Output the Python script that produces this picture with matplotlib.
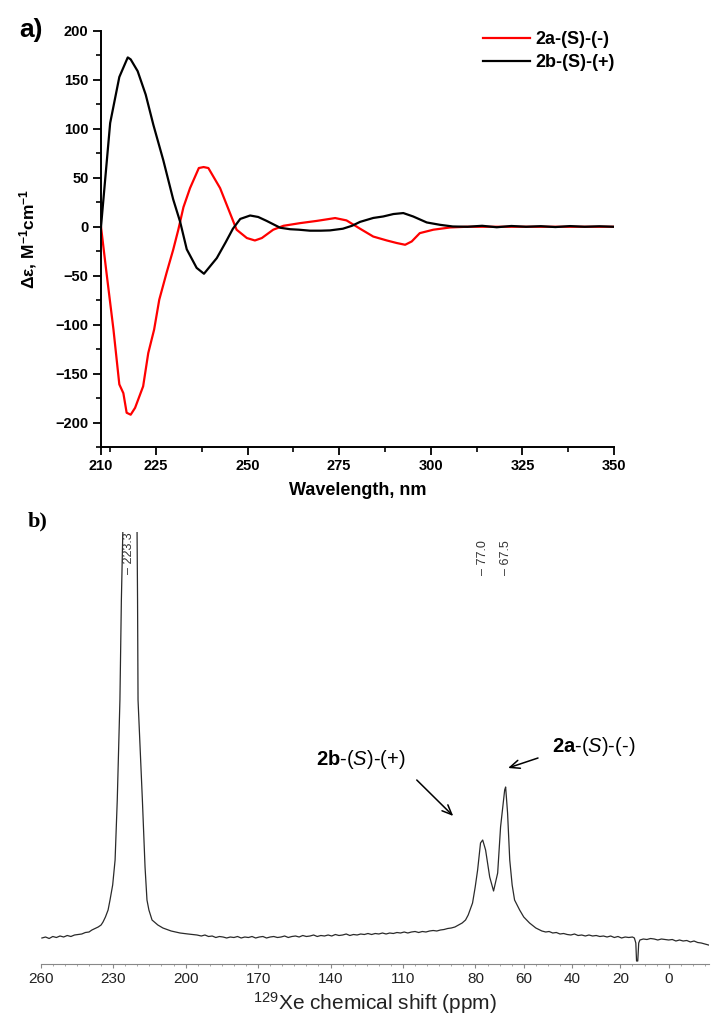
import matplotlib
matplotlib.use("Agg")
import matplotlib.pyplot as plt
from matplotlib.ticker import FixedLocator, MultipleLocator

plt.rcParams['font.family'] = ['Liberation Sans', 'DejaVu Sans']
plt.rcParams['mathtext.fontset'] = 'custom'
plt.rcParams['mathtext.rm'] = 'Liberation Sans'
plt.rcParams['mathtext.it'] = 'Liberation Sans:italic'
plt.rcParams['mathtext.bf'] = 'Liberation Sans:bold'
plt.rcParams['mathtext.default'] = 'regular'

# ---- a) CD spectra ----
wl_2b = [210, 212.5, 215, 217.3, 218.1, 220, 222.2, 224.3, 227, 229.7, 231.6, 233.4,
         236.1, 238.1, 241.6, 244, 246, 248, 250.7, 252.9, 255.2, 258.9, 261.6, 264,
         267, 270, 272.5, 276, 278.5, 280.7, 284.3, 287, 289.8, 292.5, 295.2, 298.9,
         302.5, 306, 310, 314, 318, 322, 326, 330, 334, 338, 342, 346, 350]
cd_2b = [0, 106, 153, 173, 171, 159, 135, 104, 68, 28, 5, -23,
         -42, -48, -32, -16, -2, 8, 11.5, 10, 6, -1, -2.5, -3,
         -4, -4, -3.7, -2, 1, 5, 9, 10.5, 13, 14, 10.5, 4.4,
         2, 0.3, 0, 1, -0.5, 0.8, 0, 0.6, -0.3, 0.7, 0, 0.5, 0]

wl_2a = [210, 211.5, 213.4, 215, 216.1, 217, 218.1, 219.3, 221.5, 222.9, 224.5, 225.9,
         227.9, 229.7, 231.1, 232.5, 234.3, 236.7, 238, 239.3, 242.5, 245.2, 247, 249.8,
         252, 253.9, 257, 259.8, 264.3, 268.9, 273.9, 277, 280.7, 284.3, 288, 290.7,
         293, 294.8, 297, 300.7, 305.3, 309.8, 315, 320, 325, 330, 335, 340, 345, 350]
cd_2a = [0, -47, -105, -161, -170, -190, -192, -185, -163, -129, -105, -74.5,
         -47, -23.5, -3, 20, 39.5, 60, 61, 60, 39.5, 14, -3, -11.5,
         -14, -11.5, -3, 1, 3.7, 6, 8.9, 6.5, -2, -10, -14, -16.6,
         -18.4, -15, -6.5, -3, -0.7, 0, 0, 0, 0, 0, 0, 0, 0, 0]

cd_xticks = [210, 225, 250, 275, 300, 325, 350]

# ---- b) 129Xe NMR spectrum ----
spec_ppm = [259.5, 258.0, 256.5, 255.0, 253.5, 252.0, 250.5, 249.0, 247.5, 246.0, 244.5,
            243.0, 241.5, 240.0, 238.8, 237.5, 236.2, 235.0, 234.2, 233.2, 232.1, 231.3,
            230.2, 229.2, 228.3, 227.2, 226.6, 226.0, 225.2, 224.2, 223.3, 222.4, 221.3,
            220.1, 219.9, 219.7, 217.9, 216.8, 216.0, 215.2, 213.9, 211.5, 209.4, 206.0,
            202.3, 199.0, 195.3, 193.5, 192.0, 190.5, 189.0, 187.5, 186.0, 184.5, 183.0,
            181.5, 180.0, 178.5, 177.0, 175.5, 174.0, 172.5, 171.0, 169.5, 168.0, 166.5,
            165.0, 163.5, 162.0, 160.5, 159.0, 157.5, 156.0, 154.5, 153.0, 151.5, 150.0,
            148.5, 147.0, 145.5, 144.0, 142.5, 141.0, 139.5, 138.0, 136.5, 135.0, 133.5,
            132.0, 130.5, 129.0, 127.5, 126.0, 124.5, 123.0, 121.5, 120.0, 118.5, 117.0,
            115.5, 114.0, 112.5, 111.0, 109.5, 108.0, 106.5, 105.0, 103.5, 102.0, 100.5,
            99.0, 97.5, 96.0, 94.5, 93.0, 91.5, 90.0, 88.5, 87.0, 85.5, 84.1, 83.0, 81.2,
            80.1, 79.1, 77.9, 77.0, 75.8, 74.1, 72.5, 70.8, 69.6, 67.9, 67.5, 66.7, 65.8,
            64.8, 63.8, 61.7, 60.0, 57.6, 55.0, 52.5, 50.9, 49.5, 48.0, 46.5, 45.0, 43.5,
            42.0, 40.5, 39.0, 37.5, 36.0, 34.5, 33.0, 31.5, 30.0, 28.5, 27.0, 25.5, 24.0,
            22.5, 21.0, 19.5, 18.0, 16.5, 15.0, 14.2, 13.6, 13.3, 12.8, 12.4, 11.9, 10.5,
            9.0, 7.5, 6.0, 4.5, 3.0, 1.5, 0.0, -1.5, -3.0, -4.5, -6.0, -7.5, -9.0, -10.5,
            -12.0, -13.5, -15.0, -16.5]
spec_int = [-1, 0, -1.5, 0.5, -0.5, 1, 0, 1.5, 0.5, 2, 2.5,
            3, 4.5, 5, 7, 8.5, 10, 12, 15, 20, 27, 37,
            52, 77, 137, 237, 337, 405, 700, 950, 1000, 950, 700,
            405, 337, 237, 137, 70, 37, 27, 17, 12, 9, 6,
            4, 3, 2, 1, 2, 0.5, 1, -0.5, 0.5, 0, -1,
            0, -0.5, 0.5, -1, 0, -0.5, 0.5, -1, 0, 0.5, -1,
            0, 0.5, -0.5, 0, 1, -0.5, 0.5, 1, 0, 1.5, 0.5,
            1, 2, 0.5, 1.5, 1, 2, 1, 2.5, 1.5, 2, 3,
            1.5, 2.5, 2, 3, 2.5, 3.5, 2.5, 3.5, 3, 4, 3,
            4, 3.5, 4.5, 4, 5, 4, 5, 5.5, 4.5, 5.5, 5,
            6, 6.5, 6, 7, 7.5, 8.5, 9, 10, 12, 14, 17, 22, 34,
            50, 67, 94, 97, 87, 60, 46, 64, 110, 147, 150, 124, 77,
            52, 37, 27, 20, 14, 9, 6, 5, 5.5, 4, 4.5, 3, 3.5,
            2.5, 2, 3, 1.5, 2, 1, 2, 1, 1.5, 0.5, 1, 0, 1,
            -0.5, 0.5, -1, 0, -0.5, 0, -1, -6, -24, -24, -6, -3, -2,
            -2.5, -1.5, -2, -3, -2, -2.5, -3, -2.5, -4, -3, -4, -3.5, -5, -4,
            -5.5, -6, -7, -8]

peak_ppm = [223.3, 77.0, 67.5]
peak_labels = ['223.3', '77.0', '67.5']
nmr_xticks = [260, 230, 200, 170, 140, 110, 80, 60, 40, 20, 0]

fig = plt.figure(figsize=(7.16, 10.29), dpi=100)

# ---------------- panel a ----------------
ax1 = fig.add_axes([101/716, 1 - 447/1029, 513/716, 416/1029])
ax1.plot(wl_2a, cd_2a, color='#ff0000', lw=1.6, label='2a-(S)-(-)')
ax1.plot(wl_2b, cd_2b, color='black', lw=1.6, label='2b-(S)-(+)')
ax1.set_xlim(210, 350)
ax1.set_ylim(-225, 200)
ax1.xaxis.set_major_locator(FixedLocator(cd_xticks))
ax1.xaxis.set_minor_locator(FixedLocator([212.5, 237.5, 262.5, 287.5, 312.5, 337.5]))
ax1.yaxis.set_major_locator(MultipleLocator(50))
ax1.yaxis.set_minor_locator(MultipleLocator(25))
for s in ['top', 'right']:
    ax1.spines[s].set_visible(False)
for s in ['left', 'bottom']:
    ax1.spines[s].set_linewidth(1.4)
ax1.tick_params(which='major', direction='out', length=6, width=1.3, labelsize=10.5, pad=3)
ax1.tick_params(which='minor', direction='out', length=3.5, width=1.2)
for lab in ax1.get_xticklabels() + ax1.get_yticklabels():
    lab.set_fontweight('bold')
ax1.set_xlabel('Wavelength, nm', fontsize=13, fontweight='bold', labelpad=6)
ax1.set_ylabel('Δε, M$^{\\mathbf{-1}}$cm$^{\\mathbf{-1}}$', fontsize=12.5,
               fontweight='bold', labelpad=12)
ax1.legend(loc='upper left', bbox_to_anchor=(483/716, 1 - 31/1029),
           bbox_transform=fig.transFigure, frameon=False, borderpad=0,
           borderaxespad=0, handlelength=2.6, handletextpad=0.3, labelspacing=0.35,
           prop={'weight': 'bold', 'size': 13})
fig.text(19/716, 1 - 30/1029, 'a)', fontsize=19, fontweight='bold', va='center')

# ---------------- panel b ----------------
ax2 = fig.add_axes([40.7/716, 1 - 964/1029, 668.3/716, 432/1029])
ax2.plot(spec_ppm, spec_int, color='#2a2a2a', lw=0.9)
ax2.set_xlim(260, -16.7)
ax2.set_ylim(-27, 405)
for s in ['top', 'right', 'left']:
    ax2.spines[s].set_visible(False)
ax2.spines['bottom'].set_color('#888888')
ax2.spines['bottom'].set_linewidth(0.8)
ax2.set_yticks([])
ax2.xaxis.set_major_locator(FixedLocator(nmr_xticks))
ax2.xaxis.set_minor_locator(MultipleLocator(5))
ax2.tick_params(axis='x', which='major', direction='out', length=3, width=0.8,
                color='#888888', labelsize=11, labelcolor='#222222', pad=3)
ax2.tick_params(axis='x', which='minor', direction='out', length=1.5, width=0.6,
                color='#999999')
ax2.set_xlabel('$^{129}$Xe chemical shift (ppm)', fontsize=15, color='#222222',
               labelpad=3)

for p, lab in zip(peak_ppm, peak_labels):
    ytop = 1.0 if p > 200 else 0.981
    ax2.text(p, ytop, '\u2013 ' + lab, transform=ax2.get_xaxis_transform(),
             rotation=90, ha='center', va='top', fontsize=9, color='#333333')

ax2.text(146, 172, r'$\mathbf{2b}$-($\mathit{S}$)-(+)', fontsize=14.5, ha='left',
         va='baseline')
ax2.text(48.2, 185, r'$\mathbf{2a}$-($\mathit{S}$)-(-)', fontsize=14.5, ha='left',
         va='baseline')
ax2.annotate('', xy=(89.2, 121), xytext=(104.3, 157),
             arrowprops=dict(arrowstyle='->,head_length=0.7,head_width=0.3', lw=1.1,
                             color='black', shrinkA=0, shrinkB=0))
ax2.annotate('', xy=(66.5, 169), xytext=(54.1, 179),
             arrowprops=dict(arrowstyle='->,head_length=0.7,head_width=0.3', lw=1.1,
                             color='black', shrinkA=0, shrinkB=0))

fig.text(28/716, 1 - 521/1029, 'b)', fontsize=16, fontweight='bold',
         family='Liberation Serif', va='center')

fig.savefig('out.png', dpi=100)
